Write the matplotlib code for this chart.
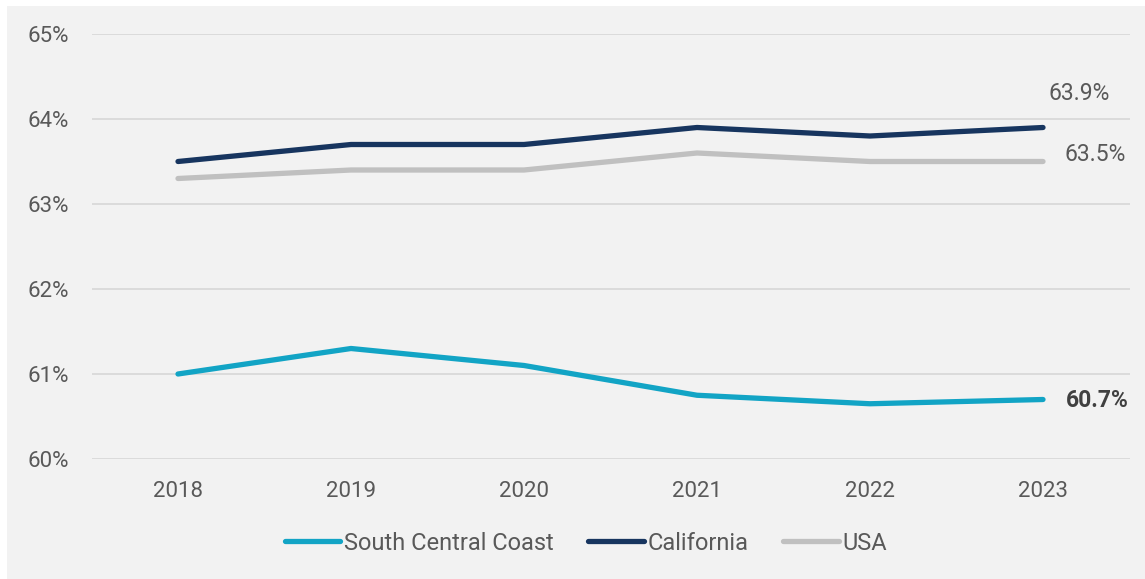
import matplotlib
matplotlib.use("Agg")
import numpy as np
from matplotlib import pyplot as plt
from matplotlib.patches import Rectangle

plt.rcParams['font.family'] = ['Roboto', 'DejaVu Sans']

years = ['2018', '2019', '2020', '2021', '2022', '2023']
south_central_coast = [61.0, 61.3, 61.1, 60.75, 60.65, 60.7]
california = [63.5, 63.7, 63.7, 63.9, 63.8, 63.9]
usa = [63.3, 63.4, 63.4, 63.6, 63.5, 63.5]

c_scc = '#12a4c5'
c_ca = '#17355f'
c_usa = '#c0c0c0'
txt = '#595959'
bg = '#f2f2f2'
fs = 16
fs_lab = 16.5

fig = plt.figure(figsize=(11.45, 5.79), dpi=100)
fig.patch.set_facecolor('white')
fig.add_artist(Rectangle((7 / 1145, 0), 1 - 7 / 1145, 1 - 6 / 579,
                         transform=fig.transFigure, facecolor=bg,
                         edgecolor='none', zorder=-1))

ax = fig.add_axes([91.5 / 1145, 1 - 459 / 579, (1129.5 - 91.5) / 1145, (459 - 34) / 579])
ax.set_facecolor('none')

x = np.arange(len(years))
ax.plot(x, usa, color=c_usa, lw=3.8, solid_capstyle='round', label='USA', zorder=3)
ax.plot(x, california, color=c_ca, lw=3.8, solid_capstyle='round', label='California', zorder=4)
ax.plot(x, south_central_coast, color=c_scc, lw=3.8, solid_capstyle='round',
        label='South Central Coast', zorder=5)

ax.set_xlim(-0.5, len(years) - 0.5)
ax.set_ylim(60, 65)
ax.set_yticks(np.arange(60, 66, 1))
ax.set_yticklabels([f'{v}%' for v in range(60, 66)])
ax.set_xticks(x)
ax.set_xticklabels(years)
ax.grid(axis='y', color='#d9d9d9', lw=1.3)
ax.set_axisbelow(True)
for s in ax.spines.values():
    s.set_visible(False)
ax.tick_params(axis='both', length=0, labelsize=fs, colors=txt)
ax.tick_params(axis='y', pad=16)
ax.tick_params(axis='x', pad=16)

# end-of-line labels
ax.annotate(f'{california[-1]:.1f}%', (x[-1], california[-1]), xytext=(36, 34),
            textcoords='offset pixels', ha='center', va='center', fontsize=fs_lab, color=txt)
ax.annotate(f'{usa[-1]:.1f}%', (x[-1], usa[-1]), xytext=(21, 7),
            textcoords='offset pixels', ha='left', va='center', fontsize=fs_lab, color=txt)
ax.annotate(f'{south_central_coast[-1]:.1f}%', (x[-1], south_central_coast[-1]), xytext=(23, -1),
            textcoords='offset pixels', ha='left', va='center', fontsize=fs_lab,
            fontweight='bold', color='#404040')

h, l = ax.get_legend_handles_labels()
order = [2, 1, 0]
leg = fig.legend([h[i] for i in order], [l[i] for i in order], loc='center',
                 bbox_to_anchor=(586 / 1145, 1 - 543 / 579), ncol=3, frameon=False,
                 fontsize=17, handlelength=2.35, handletextpad=0.17, columnspacing=1.45)
for t in leg.get_texts():
    t.set_color(txt)

fig.savefig('out.png', dpi=100, facecolor=fig.get_facecolor())
